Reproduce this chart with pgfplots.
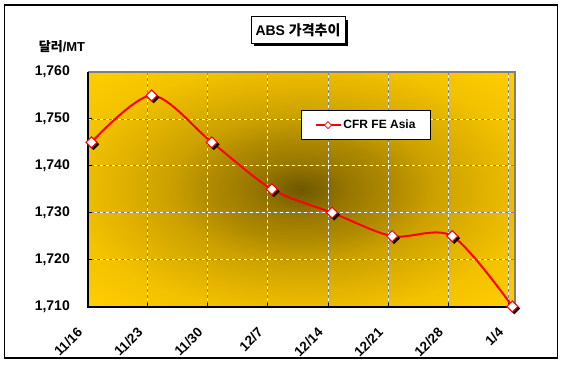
\documentclass[border=0pt]{standalone}
\usepackage{fontspec}
\setmainfont{Liberation Sans}
\newfontfamily\kr{Noto Sans CJK KR}
\usepackage{pgfplots}
\pgfplotsset{compat=1.18}
\definecolor{gold}{RGB}{255,204,0}
\definecolor{c0}{RGB}{110,88,0}
\definecolor{c1}{RGB}{150,118,0}
\definecolor{c2}{RGB}{175,138,0}
\definecolor{c3}{RGB}{205,162,0}
\definecolor{c4}{RGB}{224,177,0}
\definecolor{c5}{RGB}{243,194,0}
\pgfdeclareradialshading{bgshade}{\pgfpoint{0bp}{0bp}}{color(0bp)=(c0); color(5.3bp)=(c1); color(10.6bp)=(c2); color(15.9bp)=(c3); color(21.2bp)=(c4); color(27bp)=(c5); color(34bp)=(gold); color(50bp)=(gold)}
\begin{document}
\begin{tikzpicture}[x=1bp,y=1bp]
\path[use as bounding box] (0,0) rectangle (564,364);
\fill[white] (0,0) rectangle (564,364);
\draw[black, line width=1.5bp] (4.5,6) rectangle (557.5,359);
% title
\fill[black] (254,318) rectangle (348,344);
\draw[black, fill=white, line width=1bp] (251,321) rectangle (345,347);
\node[font=\fontsize{14bp}{16bp}\selectfont\bfseries] at (298,334) {ABS {\kr 가격추이}};
\node[font=\fontsize{13bp}{15bp}\selectfont\bfseries] at (62,317) {{\kr 달러}/MT};
\begin{axis}[
  at={(87.5bp,57.5bp)}, anchor=south west,
  scale only axis, width=427.5bp, height=234.5bp,
  xmin=0, xmax=7.11, ymin=1710, ymax=1760,
  xtick={0,...,7},
  xticklabels={11/16,11/23,11/30,12/7,12/14,12/21,12/28,1/4},
  ytick={1710,1720,...,1760},
  /pgf/number format/.cd, 1000 sep={,}, assume math mode=true, /pgfplots/.cd,
  grid=major,
  major grid style={line width=0.8bp, black!50, postaction={draw, white, line width=0.8bp, dash pattern=on 3bp off 3bp}},
  axis line style={draw=none},
  tick align=inside, xtick pos=bottom, ytick pos=left,
  major tick length=4bp,
  tick style={black, line width=1bp},
  axis background/.style={shade, shading=bgshade},
  yticklabel style={font=\fontsize{14bp}{16bp}\selectfont\bfseries, inner sep=0pt, xshift=-17.5bp},
  xticklabel style={font=\fontsize{13.5bp}{16bp}\selectfont\bfseries, anchor=east, inner sep=0pt, xshift=-7.5bp, yshift=-23.5bp, rotate=45},
  clip=false,
  legend style={at={(0.4994,0.838)}, anchor=north west, draw=black, line width=1bp, fill=white,
    font=\fontsize{12bp}{14bp}\selectfont\bfseries, inner xsep=13bp, inner ysep=7.5bp},
  legend cell align=left,
]
\draw[black!50, line width=2bp] (rel axis cs:0,1) -- (rel axis cs:1,1) -- (rel axis cs:1,0);
\draw[black, line width=2bp] (rel axis cs:0,1) -- (rel axis cs:0,0) -- (rel axis cs:1,0);
\addplot[red, line width=2bp, smooth, xshift=4bp,
  legend image code/.code={
    \draw[red, line width=2bp] (0bp,0bp) -- (25bp,0bp);
    \draw[red, fill=white, line width=0.8bp] (12.5bp,3.5bp) -- (16bp,0bp) -- (12.5bp,-3.5bp) -- (9bp,0bp) -- cycle;}]
  coordinates {(0,1745) (1,1755) (2,1745) (3,1735) (4,1730) (5,1725) (6,1725) (7,1710)};
\addlegendentry{CFR FE Asia}
\addplot[only marks, xshift=4bp, mark=square*, mark size=3.9bp, forget plot,
  mark options={xshift=2bp, yshift=-2bp, rotate=45, draw=black, fill=black}]
  coordinates {(0,1745) (1,1755) (2,1745) (3,1735) (4,1730) (5,1725) (6,1725) (7,1710)};
\addplot[only marks, xshift=4bp, mark=square*, mark size=3.9bp, forget plot,
  mark options={rotate=45, draw=red, fill=white, line width=1bp}]
  coordinates {(0,1745) (1,1755) (2,1745) (3,1735) (4,1730) (5,1725) (6,1725) (7,1710)};
\end{axis}
\end{tikzpicture}
\end{document}
